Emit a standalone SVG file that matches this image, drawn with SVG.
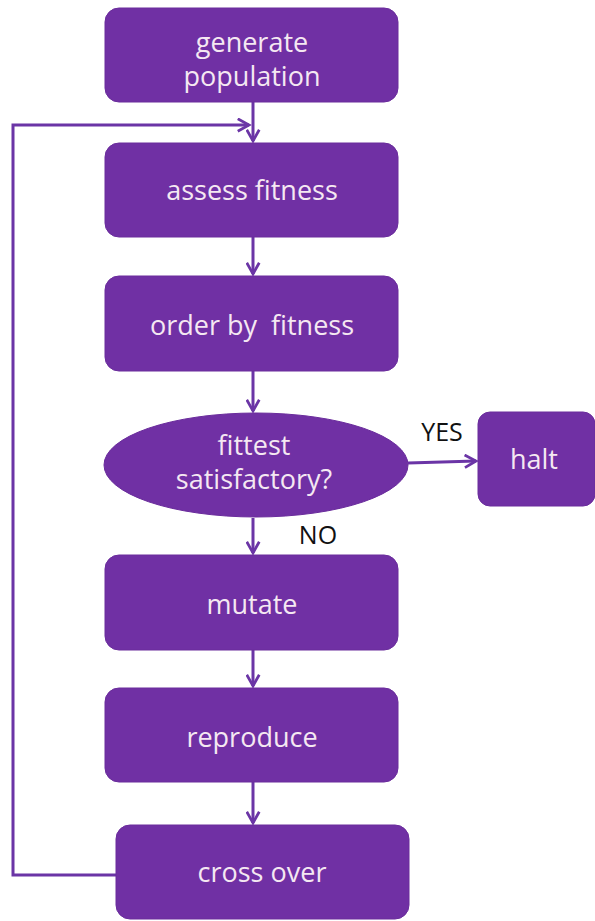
<svg xmlns="http://www.w3.org/2000/svg" width="595" height="921" viewBox="0 0 595 921">
<style>
.n{fill:#7030a4;stroke:#6a2c9c;stroke-width:1}
.t{font-family:"Open Sans","Liberation Sans",sans-serif;font-size:27px;fill:#f5e8f2;text-anchor:middle;white-space:pre}
.l{font-family:"Open Sans","Liberation Sans",sans-serif;font-size:25px;fill:#111;text-anchor:middle}
.c{fill:none;stroke:#6b35a6;stroke-width:3}
</style>
<defs>
<marker id="a" viewBox="0 0 12 12" refX="10" refY="6" markerWidth="5" markerHeight="5" orient="auto" markerUnits="strokeWidth">
<path d="M1,1 L10,6 L1,11" fill="none" stroke="#6b35a6" stroke-width="2.2"/>
</marker>
</defs>
<rect width="595" height="921" fill="#fff"/>
<g id="connectors">
<line class="c" x1="253" y1="102" x2="253" y2="141" marker-end="url(#a)"/>
<line class="c" x1="253" y1="237" x2="253" y2="274" marker-end="url(#a)"/>
<line class="c" x1="253" y1="371" x2="253" y2="411" marker-end="url(#a)"/>
<line class="c" x1="408" y1="463" x2="476" y2="461" marker-end="url(#a)"/>
<line class="c" x1="253" y1="518" x2="253" y2="553" marker-end="url(#a)"/>
<line class="c" x1="253" y1="650" x2="253" y2="686" marker-end="url(#a)"/>
<line class="c" x1="253" y1="782" x2="253" y2="823" marker-end="url(#a)"/>
<polyline class="c" points="116,875 13,875 13,125 249,125" marker-end="url(#a)"/>
<text class="l" x="442" y="441">YES</text>
<text class="l" x="318" y="544">NO</text>
</g>
<g id="generate"><rect class="n" x="105" y="8" width="293" height="94" rx="14"/><text class="t" x="252" y="52">generate</text><text class="t" x="252" y="86">population</text></g>
<g id="assess"><rect class="n" x="105" y="143" width="293" height="94" rx="14"/><text class="t" x="252" y="200">assess fitness</text></g>
<g id="order"><rect class="n" x="105" y="276" width="293" height="95" rx="14"/><text class="t" x="252" y="335">order by  fitness</text></g>
<g id="decision"><ellipse class="n" cx="256" cy="465" rx="152" ry="52"/><text class="t" x="254" y="455">fittest</text><text class="t" x="254" y="489">satisfactory?</text></g>
<g id="halt"><rect class="n" x="478" y="412" width="117" height="94" rx="12"/><text class="t" x="534" y="469">halt</text></g>
<g id="mutate"><rect class="n" x="105" y="555" width="293" height="95" rx="14"/><text class="t" x="252" y="614">mutate</text></g>
<g id="reproduce"><rect class="n" x="105" y="688" width="293" height="94" rx="14"/><text class="t" x="252" y="747">reproduce</text></g>
<g id="crossover"><rect class="n" x="116" y="825" width="293" height="94" rx="14"/><text class="t" x="262" y="882">cross over</text></g>
</svg>
